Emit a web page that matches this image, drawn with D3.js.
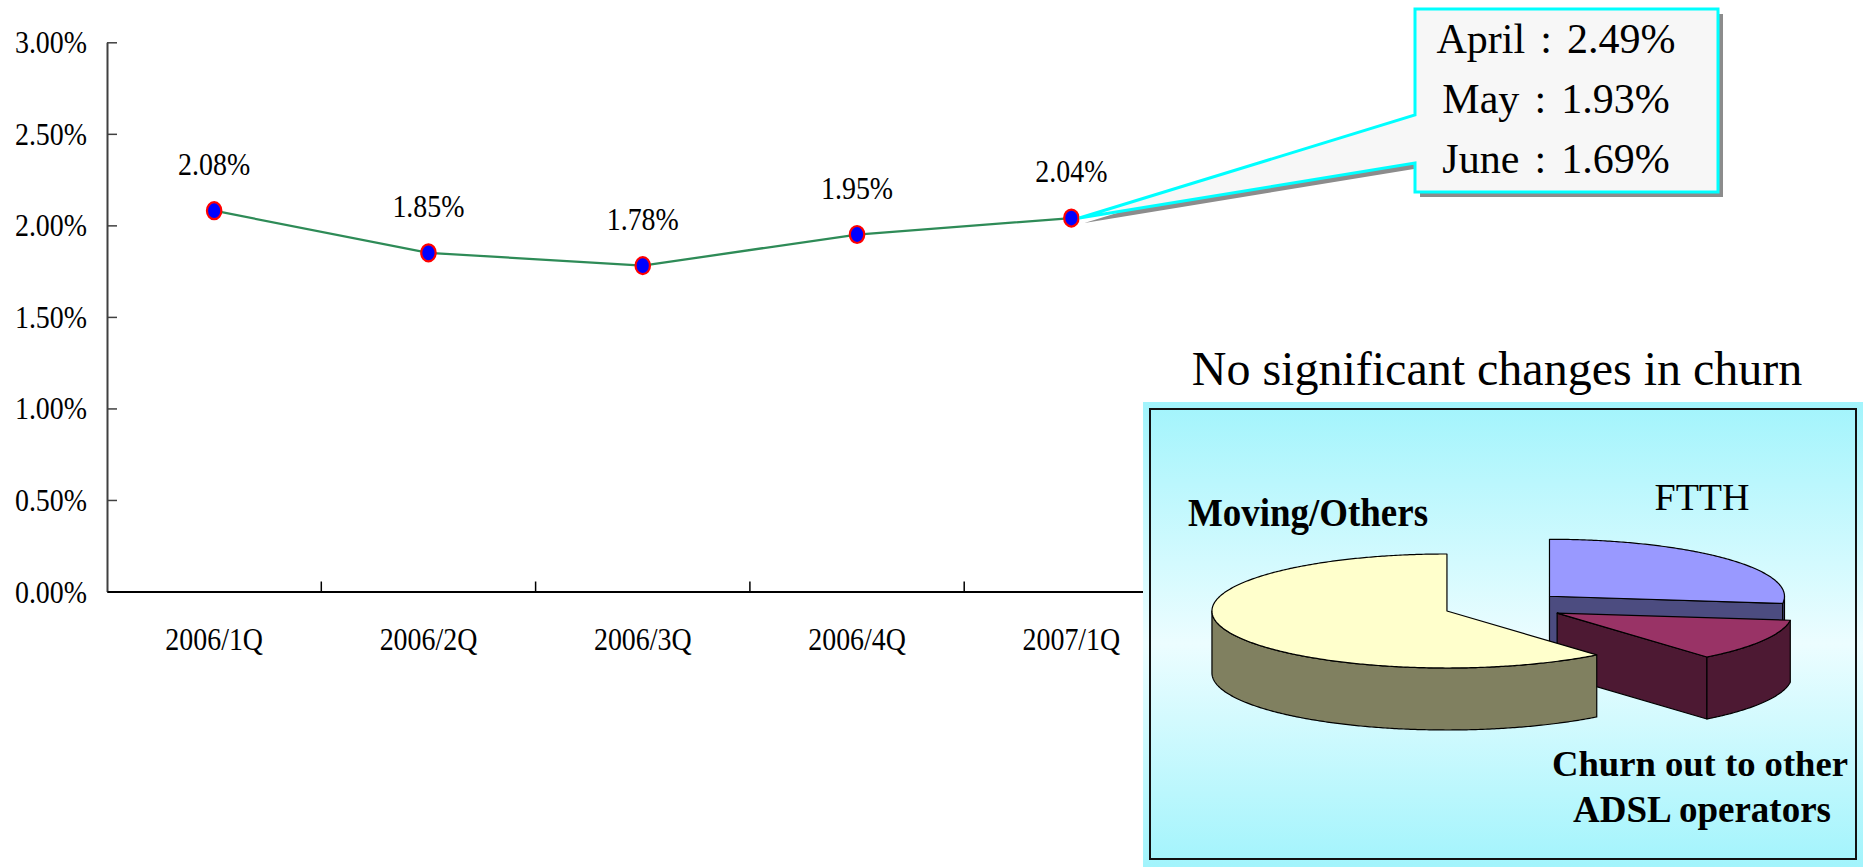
<!DOCTYPE html>
<html>
<head>
<meta charset="utf-8">
<script src="https://cdn.jsdelivr.net/npm/d3@7"></script>
<style>
  body { margin: 0; background: #fff; }
  svg { display: block; }
  text { font-family: "Liberation Serif", "Times New Roman", serif; fill: #000; }
</style>
</head>
<body>
<svg id="chart" width="1863" height="867"></svg>
<script>
// Quarterly churn rate (%)
const quarters = ["2006/1Q", "2006/2Q", "2006/3Q", "2006/4Q", "2007/1Q"];
const churnRates = [2.08, 1.85, 1.78, 1.95, 2.04];
const yTicks = [0, 0.5, 1.0, 1.5, 2.0, 2.5, 3.0];

// Monthly churn for the latest quarter
const monthNames = ["April", "May", "June"];
const monthRates = [2.49, 1.93, 1.69];

// Churn reasons (share, %), drawn clockwise from 12 o'clock
const reasonNames = ["FTTH", "Churn out to other ADSL operators", "Moving/Others"];
const reasonShares = [27, 12, 61];

const svg = d3.select("#chart");
const pct = d => d3.format(".2f")(d) + "%";

// narrow-set text: taller glyphs squeezed back to a given width ratio
function narrow(sel, ratio) {
  sel.each(function () {
    const len = this.getComputedTextLength();
    d3.select(this).attr("textLength", len * ratio).attr("lengthAdjust", "spacingAndGlyphs");
  });
}

// ---------- line chart ----------
const x = d3.scaleBand().domain(quarters).range([107, 1178.5]);
const y = d3.scaleLinear().domain([0, 3]).range([591.5, 42.3]);

const yAxis = d3.axisLeft(y)
  .tickValues(yTicks)
  .tickFormat(pct)
  .tickSizeInner(-10)
  .tickSizeOuter(0)
  .tickPadding(20);

const gy = svg.append("g").attr("transform", "translate(107,0)").call(yAxis);
gy.select(".domain").attr("stroke", "#404040").attr("stroke-width", 2);
gy.selectAll(".tick line").attr("stroke", "#404040").attr("stroke-width", 1.5);
gy.selectAll(".tick text")
  .attr("font-size", 31).attr("font-family", "Liberation Serif").attr("fill", "#000")
  .attr("dy", "0.34em")
  .call(narrow, 0.9);

const xAxis = d3.axisBottom(x).tickSize(0).tickPadding(36);
const gx = svg.append("g").attr("transform", "translate(0,591.5)").call(xAxis);
gx.select(".domain").attr("stroke", "#000").attr("stroke-width", 2);
gx.selectAll(".tick text")
  .attr("font-size", 31).attr("font-family", "Liberation Serif").attr("fill", "#000")
  .call(narrow, 0.9);

// category boundary ticks pointing up into the plot
const bounds = quarters.slice(1).map(q => x(q)).concat([x.range()[1]]);
gx.selectAll("line.bound")
  .data(bounds)
  .enter().append("line")
  .attr("class", "bound")
  .attr("x1", d => d).attr("x2", d => d)
  .attr("y1", 0).attr("y2", -10)
  .attr("stroke", "#000").attr("stroke-width", 1.5);

const cx = d => x(d) + x.bandwidth() / 2;
const pts = quarters.map((q, i) => [cx(q), y(churnRates[i])]);

svg.append("path")
  .attr("d", d3.line()(pts))
  .attr("fill", "none")
  .attr("stroke", "#2E8B57")
  .attr("stroke-width", 2.3);

svg.selectAll("ellipse.pt")
  .data(pts).enter().append("ellipse")
  .attr("class", "pt")
  .attr("cx", d => d[0]).attr("cy", d => d[1])
  .attr("rx", 7.2).attr("ry", 8.5)
  .attr("fill", "#0000FF").attr("stroke", "#FF0000").attr("stroke-width", 2.2);

svg.selectAll("text.val")
  .data(quarters).enter().append("text")
  .attr("class", "val")
  .attr("x", q => cx(q)).attr("y", (q, i) => y(churnRates[i]) - 36)
  .attr("text-anchor", "middle")
  .attr("font-size", 31)
  .text((q, i) => pct(churnRates[i]))
  .call(narrow, 0.9);

// ---------- callout with monthly figures ----------
const last = quarters.length - 1;
const tip = [cx(quarters[last]) + 8, y(churnRates[last])];
const box = { x0: 1415, y0: 9, x1: 1718, y1: 192 };
const calloutPath = `M${box.x0},${box.y0}H${box.x1}V${box.y1}H${box.x0}V163L${tip[0]},${tip[1]}L${box.x0},115Z`;

svg.append("path").attr("d", calloutPath)
  .attr("transform", "translate(5,5)")
  .attr("fill", "#8C8C8C");
svg.append("path").attr("d", calloutPath)
  .attr("fill", "#F7F7F7")
  .attr("stroke", "#00FFFF").attr("stroke-width", 3)
  .attr("stroke-linejoin", "miter");

const months = svg.selectAll("text.month")
  .data(monthNames).enter().append("text")
  .attr("class", "month")
  .attr("x", 1556)
  .attr("y", (d, i) => 53 + i * 60)
  .attr("text-anchor", "middle")
  .attr("font-size", 42);
months.append("tspan").text(d => d);
months.append("tspan").attr("dx", "0.36em").text(":");
months.append("tspan").attr("dx", "0.36em").text((d, i) => pct(monthRates[i]));

// ---------- churn reasons panel ----------
const defs = svg.append("defs");
const grad = defs.append("linearGradient").attr("id", "panelBg")
  .attr("x1", 0).attr("y1", 0).attr("x2", 0).attr("y2", 1);
grad.append("stop").attr("offset", "0%").attr("stop-color", "#A2F4FC");
grad.append("stop").attr("offset", "52%").attr("stop-color", "#ECFDFF");
grad.append("stop").attr("offset", "100%").attr("stop-color", "#A2F4FC");

svg.append("text")
  .attr("x", 1497).attr("y", 385)
  .attr("text-anchor", "middle")
  .attr("font-size", 48)
  .text("No significant changes in churn");

svg.append("rect")
  .attr("x", 1143).attr("y", 402).attr("width", 720).attr("height", 465)
  .attr("fill", "url(#panelBg)");
svg.append("rect")
  .attr("x", 1150).attr("y", 409).attr("width", 706).attr("height", 450)
  .attr("fill", "none").attr("stroke", "#111").attr("stroke-width", 2);

// 3D exploded pie
const pie = { cx: 1504, cy: 606, rx: 235, ry: 57, depth: 62, explode: 0.258 };
const topColors = ["#9999FF", "#993366", "#FFFFCC"];
const sideColors = ["#4C4C80", "#4D1933", "#808060"];
const arcs = d3.pie().sort(null).value(d => d)(reasonShares);

function rim(a, ox, oy, z) {
  return [pie.cx + ox + pie.rx * Math.sin(a), pie.cy + oy - pie.ry * Math.cos(a) + z];
}
function arcPoints(a0, a1, ox, oy, z) {
  const n = Math.max(2, Math.ceil(Math.abs(a1 - a0) / 0.01) + 1);
  return d3.range(n).map(k => rim(a0 + (a1 - a0) * k / (n - 1), ox, oy, z));
}
const poly = d3.line().curve(d3.curveLinearClosed);
const pieG = svg.append("g").attr("stroke", "#000").attr("stroke-width", 1.2).attr("stroke-linejoin", "round");

arcs.forEach((a, i) => {
  const mid = (a.startAngle + a.endAngle) / 2;
  const ox = pie.explode * pie.rx * Math.sin(mid);
  const oy = -pie.explode * pie.ry * Math.cos(mid);
  const c0 = [pie.cx + ox, pie.cy + oy];
  const c1 = [c0[0], c0[1] + pie.depth];

  // radial cut faces facing the viewer
  if (Math.sin(a.endAngle) > 0.01) {
    pieG.append("path").attr("fill", sideColors[i])
      .attr("d", poly([c0, rim(a.endAngle, ox, oy, 0), rim(a.endAngle, ox, oy, pie.depth), c1]));
  }
  if (Math.sin(a.startAngle) < -0.01) {
    pieG.append("path").attr("fill", sideColors[i])
      .attr("d", poly([c0, rim(a.startAngle, ox, oy, 0), rim(a.startAngle, ox, oy, pie.depth), c1]));
  }
  // curved outer wall (front half only)
  const lo = Math.max(a.startAngle, Math.PI / 2);
  const hi = Math.min(a.endAngle, 3 * Math.PI / 2);
  if (hi > lo) {
    const wall = arcPoints(lo, hi, ox, oy, 0).concat(arcPoints(hi, lo, ox, oy, pie.depth));
    pieG.append("path").attr("fill", sideColors[i]).attr("d", poly(wall));
  }
  // top face
  pieG.append("path").attr("fill", topColors[i])
    .attr("d", poly([c0].concat(arcPoints(a.startAngle, a.endAngle, ox, oy, 0))));
});

// slice labels
svg.append("text").attr("x", 1702).attr("y", 510)
  .attr("text-anchor", "middle").attr("font-size", 38).text(reasonNames[0]);
svg.append("text").attr("x", 1700).attr("y", 776)
  .attr("text-anchor", "middle").attr("font-size", 36).attr("font-weight", "bold")
  .attr("textLength", 296).attr("lengthAdjust", "spacingAndGlyphs")
  .text("Churn out to other");
svg.append("text").attr("x", 1702).attr("y", 822)
  .attr("text-anchor", "middle").attr("font-size", 38).attr("font-weight", "bold")
  .attr("textLength", 258).attr("lengthAdjust", "spacingAndGlyphs")
  .text("ADSL operators");
svg.append("text").attr("x", 1188).attr("y", 526)
  .attr("font-size", 40).attr("font-weight", "bold")
  .attr("textLength", 240).attr("lengthAdjust", "spacingAndGlyphs")
  .text(reasonNames[2]);
</script>
</body>
</html>
